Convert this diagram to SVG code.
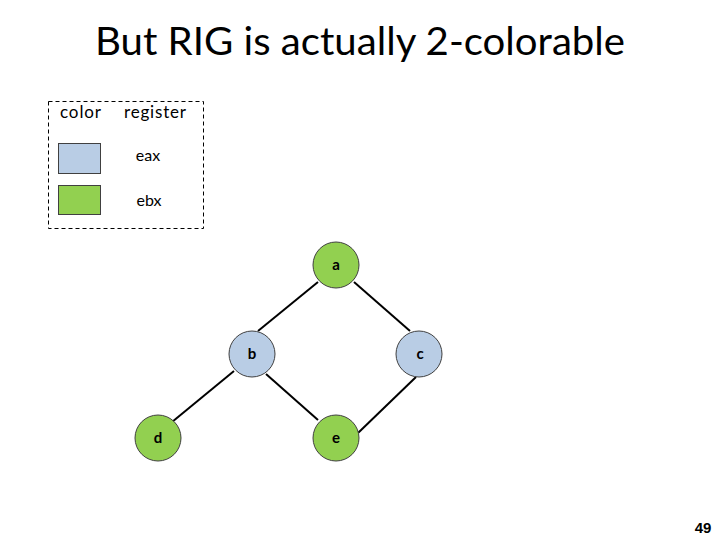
<svg xmlns="http://www.w3.org/2000/svg" width="720" height="540" viewBox="0 0 720 540">
<style>
.t{font-family:Lato,"Liberation Sans",sans-serif;fill:#000}
.n{stroke:#404040;stroke-width:1}
.g{fill:#92D050}
.b{fill:#B9CDE5}
.lbl{font-family:Lato,"Liberation Sans",sans-serif;font-size:15px;font-weight:bold;text-anchor:middle;fill:#000}
.e{stroke:#000;stroke-width:2;fill:none}
</style>
<rect width="720" height="540" fill="#fff"/>
<text class="t" x="360" y="55" font-size="38" text-anchor="middle" textLength="530" lengthAdjust="spacingAndGlyphs">But RIG is actually 2-colorable</text>
<g id="legend">
<rect x="48.5" y="101.5" width="155" height="127" fill="none" stroke="#000" stroke-width="1" stroke-dasharray="4,3"/>
<text class="t" x="60" y="118" font-size="17" textLength="41">color</text>
<text class="t" x="124" y="118" font-size="17" textLength="62">register</text>
<rect class="n b" x="58.5" y="143.5" width="42" height="30"/>
<rect class="n g" x="58.5" y="185.5" width="42" height="29"/>
<text class="t" x="148" y="161" font-size="16" text-anchor="middle">eax</text>
<text class="t" x="149" y="206" font-size="16" text-anchor="middle">ebx</text>
</g>
<g id="edges">
<line class="e" x1="318" y1="282" x2="258" y2="331"/>
<line class="e" x1="354" y1="282" x2="410" y2="331"/>
<line class="e" x1="266" y1="374" x2="318" y2="420"/>
<line class="e" x1="416" y1="377" x2="358" y2="433"/>
<line class="e" x1="234" y1="371" x2="172" y2="422"/>
</g>
<g id="node-a"><circle class="n g" cx="336" cy="265" r="23"/><text class="lbl" x="336" y="270">a</text></g>
<g id="node-b"><circle class="n b" cx="252" cy="354" r="23"/><text class="lbl" x="252" y="359">b</text></g>
<g id="node-c"><circle class="n b" cx="419" cy="354" r="23"/><text class="lbl" x="420" y="359">c</text></g>
<g id="node-d"><circle class="n g" cx="158" cy="438" r="23"/><text class="lbl" x="158" y="443">d</text></g>
<g id="node-e"><circle class="n g" cx="336" cy="438" r="23"/><text class="lbl" x="336" y="443">e</text></g>
<text x="703" y="533" font-family="Liberation Sans,Arial,sans-serif" font-size="15" font-weight="bold" text-anchor="middle">49</text>
</svg>
